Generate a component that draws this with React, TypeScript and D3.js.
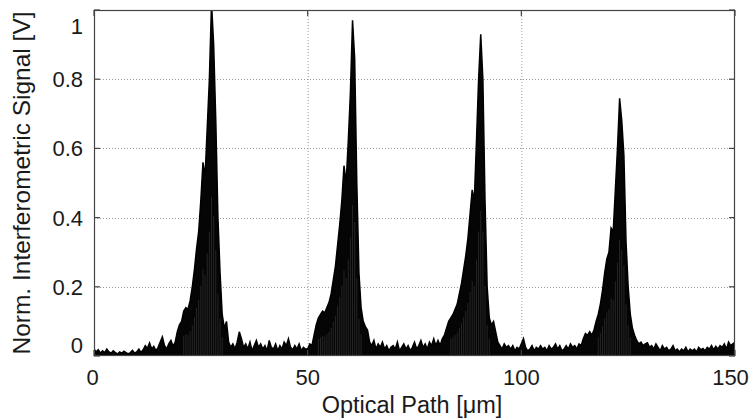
import React from "react";
import * as d3 from "d3";

const W = 754;
const H = 419;

// Sampling grid of the interferogram envelope (µm)
const PATH_START_UM = 0;
const PATH_STEP_UM = 0.5;

// Normalised interferometric signal, read every 0.5 µm (one row = 10 µm)
const signal = [
  0.02, 0.012, 0.018, 0.008, 0.015, 0.01, 0.02, 0.012, 0.008, 0.015, 0.01, 0.006, 0.012, 0.008, 0.014, 0.01, 0.006, 0.01, 0.016, 0.008,
  0.012, 0.02, 0.01, 0.018, 0.03, 0.022, 0.038, 0.02, 0.028, 0.015, 0.025, 0.04, 0.055, 0.03, 0.02, 0.035, 0.045, 0.028, 0.04, 0.07,
  0.09, 0.1, 0.13, 0.14, 0.135, 0.16, 0.2, 0.25, 0.31, 0.36, 0.45, 0.56, 0.52, 0.66, 0.8, 1.02, 0.9, 0.68, 0.4, 0.24,
  0.12, 0.08, 0.1, 0.04, 0.025, 0.035, 0.02, 0.04, 0.07, 0.05, 0.025, 0.035, 0.02, 0.04, 0.015, 0.03, 0.045, 0.025, 0.035, 0.02,
  0.03, 0.015, 0.045, 0.025, 0.02, 0.035, 0.015, 0.03, 0.02, 0.04, 0.03, 0.05, 0.025, 0.018, 0.03, 0.02, 0.035, 0.015, 0.025, 0.02,
  0.02, 0.035, 0.03, 0.06, 0.09, 0.11, 0.12, 0.13, 0.125, 0.14, 0.155, 0.18, 0.22, 0.26, 0.32, 0.38, 0.45, 0.55, 0.5, 0.62,
  0.76, 0.97, 0.86, 0.5, 0.24, 0.14, 0.1, 0.085, 0.075, 0.04, 0.03, 0.045, 0.02, 0.035, 0.025, 0.04, 0.02, 0.03, 0.015, 0.025,
  0.03, 0.02, 0.04, 0.015, 0.025, 0.035, 0.02, 0.03, 0.015, 0.025, 0.04, 0.02, 0.03, 0.045, 0.025, 0.035, 0.02, 0.04, 0.03, 0.05,
  0.03, 0.045, 0.03, 0.05, 0.06, 0.08, 0.1, 0.11, 0.12, 0.135, 0.15, 0.18, 0.21, 0.25, 0.29, 0.34, 0.41, 0.48, 0.45, 0.62,
  0.8, 0.93, 0.8, 0.45, 0.2, 0.11, 0.09, 0.1, 0.07, 0.04, 0.03, 0.02, 0.035, 0.025, 0.03, 0.02, 0.03, 0.015, 0.025, 0.02,
  0.035, 0.05, 0.025, 0.015, 0.02, 0.03, 0.015, 0.025, 0.02, 0.03, 0.02, 0.025, 0.015, 0.03, 0.02, 0.025, 0.035, 0.02, 0.03, 0.015,
  0.02, 0.03, 0.02, 0.035, 0.025, 0.03, 0.02, 0.035, 0.03, 0.05, 0.065, 0.06, 0.07, 0.06, 0.075, 0.1, 0.12, 0.15, 0.19, 0.24,
  0.28, 0.3, 0.37, 0.36, 0.48, 0.6, 0.745, 0.68, 0.58, 0.33, 0.2, 0.12, 0.08, 0.06, 0.045, 0.035, 0.04, 0.03, 0.035, 0.038,
  0.025, 0.03, 0.02, 0.035, 0.025, 0.015, 0.03, 0.02, 0.025, 0.015, 0.02, 0.03, 0.015, 0.02, 0.012, 0.02, 0.015, 0.025, 0.012, 0.02,
  0.015, 0.02, 0.012, 0.025, 0.018, 0.022, 0.015, 0.025, 0.02, 0.03, 0.018, 0.028, 0.02, 0.03, 0.025, 0.035, 0.02, 0.04, 0.03, 0.035,
  0.04,
];

const xDomain = [0, 150];
const yDomain = [0, 1];
const xTicks = [0, 50, 100, 150];
const xTickLabels = ["0", "50", "100", "150"];
const yTicks = [0, 0.2, 0.4, 0.6, 0.8, 1];
const yTickLabels = ["0", "0.2", "0.4", "0.6", "0.8", "1"];
const xGrid = [50, 100];
const yGrid = [0.2, 0.4, 0.6, 0.8];
const xTitle = "Optical Path [μm]";
const yTitle = "Norm. Interferometric Signal [V]";

const FONT = "'Liberation Sans', Arial, Helvetica, sans-serif";

export default function App() {
  const left = 94;
  const right = 735;
  const top = 10;
  const bottom = 356;

  const x = d3.scaleLinear().domain(xDomain).range([left, right]);
  const y = d3.scaleLinear().domain(yDomain).range([bottom, top]);
  const px = (i: number) => x(PATH_START_UM + i * PATH_STEP_UM);

  const area = d3
    .area<number>()
    .x((_, i) => px(i))
    .y0(y(0))
    .y1((d) => y(d));
  const line = d3
    .line<number>()
    .x((_, i) => px(i))
    .y((d) => y(d));

  const tickLen = 6;
  const axisColor = "#444";

  return (
    <svg
      width={W}
      height={H}
      style={{ position: "fixed", left: 0, top: 0, background: "#fff" }}
      fontFamily={FONT}
    >
      <defs>
        <clipPath id="plotClip">
          <rect x={left} y={top} width={right - left} height={bottom - top} />
        </clipPath>
      </defs>
      <rect x={0} y={0} width={W} height={H} fill="#fff" />

      {/* grid */}
      <g stroke="#9a9a9a" strokeWidth={1} strokeDasharray="1 2">
        {xGrid.map((v) => (
          <line key={"gx" + v} x1={x(v) + 0.5} x2={x(v) + 0.5} y1={top} y2={bottom} />
        ))}
        {yGrid.map((v) => (
          <line key={"gy" + v} x1={left} x2={right} y1={Math.round(y(v)) + 0.5} y2={Math.round(y(v)) + 0.5} />
        ))}
      </g>

      {/* signal */}
      <g clipPath="url(#plotClip)">
        <path d={area(signal) || ""} fill="#050505" />
        {/* fringe streaks in the lower part of each packet */}
        <g stroke="#6a6a6a" strokeWidth={0.6} opacity={0.55}>
          {signal.map((v, i) =>
            v > 0.1 ? (
              <line key={"s" + i} x1={px(i)} x2={px(i)} y1={y(0)} y2={y(v * 0.45)} />
            ) : null
          )}
        </g>
        <path d={line(signal) || ""} fill="none" stroke="#000" strokeWidth={1.5} strokeLinejoin="miter" />
      </g>

      {/* box */}
      <rect
        x={left + 0.5}
        y={top + 0.5}
        width={right - left - 1}
        height={bottom - top - 1}
        fill="none"
        stroke={axisColor}
        strokeWidth={1.2}
      />

      {/* ticks */}
      <g stroke={axisColor} strokeWidth={1.2}>
        {xTicks.map((v) => (
          <g key={"tx" + v}>
            <line x1={x(v)} x2={x(v)} y1={bottom} y2={bottom - tickLen} />
            <line x1={x(v)} x2={x(v)} y1={top} y2={top + tickLen} />
          </g>
        ))}
        {yTicks.map((v) => (
          <g key={"ty" + v}>
            <line x1={left} x2={left + tickLen} y1={y(v)} y2={y(v)} />
            <line x1={right} x2={right - tickLen} y1={y(v)} y2={y(v)} />
          </g>
        ))}
      </g>

      {/* tick labels */}
      <g fontSize={22} fill="#1a1a1a">
        {xTicks.map((v, i) => (
          <text
            key={"lx" + v}
            x={x(v) + (i === xTicks.length - 1 ? -4.5 : i === 0 ? -1.5 : 0)}
            y={385}
            textAnchor="middle"
          >
            {xTickLabels[i]}
          </text>
        ))}
        {yTicks.map((v, i) => (
          <text
            key={"ly" + v}
            x={83}
            y={y(v) + 8 + (i === 0 ? -11 : i === yTicks.length - 1 ? 15.5 : 0)}
            textAnchor="end"
          >
            {yTickLabels[i]}
          </text>
        ))}
      </g>

      {/* axis titles */}
      <text x={412} y={413} textAnchor="middle" fontSize={23.5} fill="#1a1a1a">
        {xTitle}
      </text>
      <text
        transform={`translate(30, ${(top + bottom) / 2}) rotate(-90)`}
        textAnchor="middle"
        fontSize={24.5}
        fill="#1a1a1a"
      >
        {yTitle}
      </text>
    </svg>
  );
}
